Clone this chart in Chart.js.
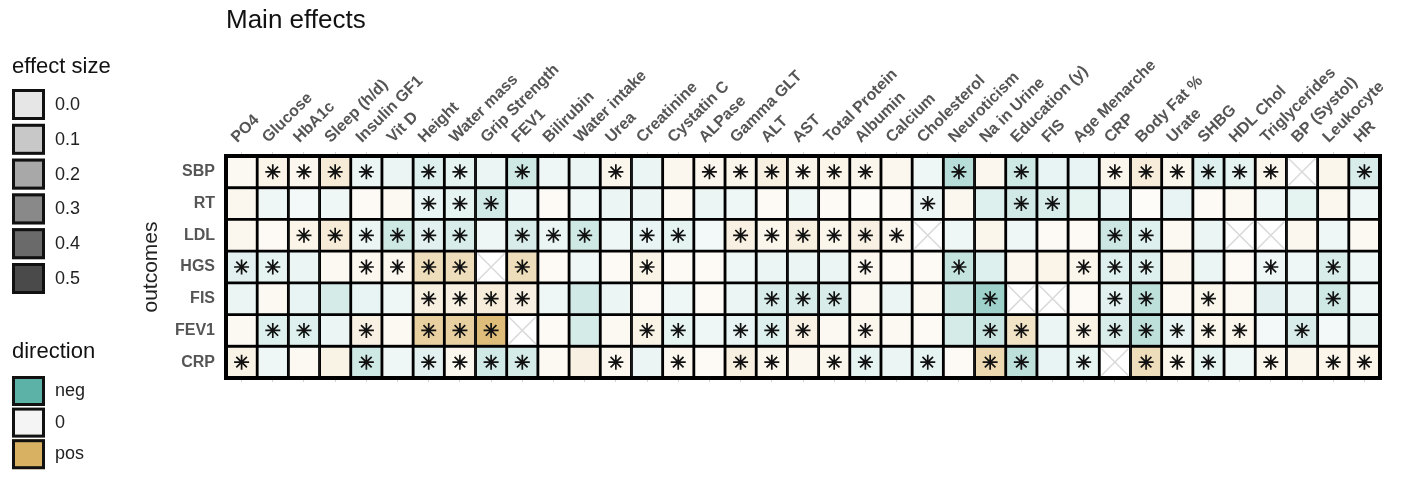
<!DOCTYPE html>
<html>
<head>
<meta charset="utf-8">
<title>Main effects</title>
<script src="https://cdn.jsdelivr.net/npm/chart.js@4/dist/chart.umd.min.js"></script>
<style>
  html, body { margin: 0; padding: 0; background: #fff; }
  #wrap { width: 1408px; height: 478px; }
</style>
</head>
<body>
<div id="wrap"><canvas id="heat"></canvas></div>
<script>
'use strict';

const exposures = ['PO4', 'Glucose', 'HbA1c', 'Sleep (h/d)', 'Insulin GF1', 'Vit D', 'Height', 'Water mass',
  'Grip Strength', 'FEV1', 'Bilirubin', 'Water intake', 'Urea', 'Creatinine', 'Cystatin C', 'ALPase',
  'Gamma GLT', 'ALT', 'AST', 'Total Protein', 'Albumin', 'Calcium', 'Cholesterol', 'Neuroticism',
  'Na in Urine', 'Education (y)', 'FIS', 'Age Menarche', 'CRP', 'Body Fat %', 'Urate', 'SHBG',
  'HDL Chol', 'Triglycerides', 'BP (Systol)', 'Leukocyte', 'HR'];
const outcomes = ['SBP', 'RT', 'LDL', 'HGS', 'FIS', 'FEV1', 'CRP'];

// signed effect size per exposure (+ pos, - neg), null = not estimated
const effSBP  = [0.04, 0.07, 0.05, 0.13, -0.06, -0.06, -0.10, -0.08, -0.06, -0.15, -0.05, -0.06, 0.06, -0.06, 0.05, 0.05, 0.06, 0.10, 0.06, 0.07, 0.06, 0.05, -0.05, -0.22, 0.05, -0.15, -0.07, -0.07, 0.06, 0.12, 0.06, -0.10, -0.08, 0.06, null, 0.06, -0.12];
const effRT   = [0.05, -0.05, -0.04, -0.05, 0.03, 0.04, -0.07, -0.08, -0.14, -0.05, 0.03, -0.05, -0.06, -0.06, 0.04, -0.06, -0.05, 0.03, -0.05, 0.03, 0.02, 0.03, -0.06, 0.05, -0.10, -0.14, -0.12, -0.08, -0.07, 0.02, -0.07, 0.03, 0.04, -0.05, -0.08, 0.05, -0.05];
const effLDL  = [0.05, 0.03, 0.07, 0.13, -0.06, -0.15, -0.09, -0.12, -0.05, -0.12, -0.06, -0.15, -0.05, -0.07, -0.08, -0.04, 0.09, 0.06, 0.10, 0.06, 0.09, 0.05, null, -0.05, 0.06, -0.05, 0.03, 0.03, -0.16, -0.10, 0.04, -0.06, null, null, 0.05, -0.05, 0.04];
const effHGS  = [-0.09, -0.08, -0.06, 0.04, 0.05, 0.05, 0.22, 0.22, null, 0.22, 0.03, -0.05, 0.03, 0.08, 0.03, 0.03, -0.05, -0.06, -0.06, -0.06, 0.05, 0.03, 0.03, -0.18, -0.10, 0.05, 0.07, 0.06, -0.10, -0.10, 0.05, -0.06, 0.03, -0.05, -0.05, -0.12, -0.05];
const effFIS  = [-0.06, 0.04, -0.07, -0.13, -0.07, -0.05, 0.10, 0.09, 0.12, 0.09, -0.05, -0.14, -0.06, 0.03, -0.05, 0.03, -0.06, -0.12, -0.12, -0.12, 0.04, -0.06, 0.04, -0.17, -0.30, null, null, 0.03, -0.09, -0.20, 0.04, 0.06, 0.04, -0.09, -0.06, -0.15, -0.05];
const effFEV1 = [0.04, -0.10, -0.10, -0.06, 0.09, 0.04, 0.30, 0.30, 0.42, null, 0.03, -0.13, 0.04, 0.08, -0.08, -0.05, -0.07, -0.10, 0.09, 0.04, 0.06, 0.04, 0.03, -0.13, -0.17, 0.18, -0.06, 0.08, -0.12, -0.20, -0.07, 0.06, 0.06, -0.04, -0.12, -0.04, -0.06];
const effCRP  = [0.08, -0.05, 0.04, 0.08, -0.15, -0.05, -0.09, 0.05, -0.14, -0.13, 0.04, 0.09, 0.05, -0.06, 0.05, 0.03, 0.10, 0.06, 0.05, 0.06, -0.08, -0.06, -0.08, 0.03, 0.25, -0.20, -0.07, -0.08, null, 0.22, 0.06, -0.08, -0.05, 0.06, 0.06, 0.07, 0.07];

// 1 = significant (asterisk)
const sigSBP  = [0,1,1,1,1,0,1,1,0,1, 0,0,1,0,0,1,1,1,1,1, 1,0,0,1,0,1,0,0,1,1, 1,1,1,1,0,0,1];
const sigRT   = [0,0,0,0,0,0,1,1,1,0, 0,0,0,0,0,0,0,0,0,0, 0,0,1,0,0,1,1,0,0,0, 0,0,0,0,0,0,0];
const sigLDL  = [0,0,1,1,1,1,1,1,0,1, 1,1,0,1,1,0,1,1,1,1, 1,1,0,0,0,0,0,0,1,1, 0,0,0,0,0,0,0];
const sigHGS  = [1,1,0,0,1,1,1,1,0,1, 0,0,0,1,0,0,0,0,0,0, 1,0,0,1,0,0,0,1,1,1, 0,0,0,1,0,1,0];
const sigFIS  = [0,0,0,0,0,0,1,1,1,1, 0,0,0,0,0,0,0,1,1,1, 0,0,0,0,1,0,0,0,1,1, 0,1,0,0,0,1,0];
const sigFEV1 = [0,1,1,0,1,0,1,1,1,0, 0,0,0,1,1,0,1,1,1,0, 1,0,0,0,1,1,0,1,1,1, 1,1,1,0,1,0,0];
const sigCRP  = [1,0,0,0,1,0,1,1,1,1, 0,0,1,0,1,0,1,1,0,1, 1,0,1,0,1,1,0,1,0,1, 1,1,0,1,0,1,1];

const sizeTicks = [0.0, 0.1, 0.2, 0.3, 0.4, 0.5];
const sizeGreys = ['#e6e6e6', '#c8c8c8', '#a8a8a8', '#898989', '#6a6a6a', '#4a4a4a'];
const directions = ['neg', '0', 'pos'];
const directionColors = ['#5cb2a6', '#f4f4f4', '#d8b162'];

const effects = [effSBP, effRT, effLDL, effHGS, effFIS, effFEV1, effCRP];
const signif = [sigSBP, sigRT, sigLDL, sigHGS, sigFIS, sigFEV1, sigCRP];

const NEG = [92, 178, 166];
const POS = [216, 177, 98];

function cellColor(v) {
  if (v === null) return '#ffffff';
  const base = v < 0 ? NEG : POS;
  const t = Math.min(1, Math.abs(v) * 2);
  const c = base.map(ch => Math.round(255 + (ch - 255) * t));
  return 'rgb(' + c.join(',') + ')';
}

const FONT = '"Liberation Sans", Arial, sans-serif';
Chart.defaults.font.family = FONT;
Chart.defaults.color = '#222';

// one floating bar per cell, one dataset per outcome row
const cellSets = outcomes.map((name, r) => ({
  type: 'bar',
  label: name,
  data: exposures.map(() => [r, r + 1]),
  backgroundColor: effects[r].map(cellColor),
  borderColor: '#000',
  borderWidth: 1.75,
  borderSkipped: false,
  barPercentage: 1,
  categoryPercentage: 1,
  grouped: false,
  order: 2
}));

const starPoints = [];
const missingPoints = [];
effects.forEach((row, r) => row.forEach((v, c) => {
  if (v === null) missingPoints.push({ x: exposures[c], y: r + 0.5 });
  else if (signif[r][c]) starPoints.push({ x: exposures[c], y: r + 0.5 });
}));

// title, grid frame and the two keys on the left
const sideLegend = {
  id: 'sideLegend',
  afterDraw(chart) {
    const ctx = chart.ctx;
    const area = chart.chartArea;
    ctx.save();
    ctx.textBaseline = 'middle';
    ctx.textAlign = 'left';

    ctx.fillStyle = '#111';
    ctx.font = '26px ' + FONT;
    ctx.fillText('Main effects', area.left, 21);

    ctx.strokeStyle = '#000';
    ctx.lineWidth = 4;
    ctx.strokeRect(area.left, area.top, area.right - area.left, area.bottom - area.top);

    ctx.fillStyle = '#111';
    ctx.font = '22px ' + FONT;
    ctx.fillText('effect size', 12, 67);
    ctx.font = '18px ' + FONT;
    sizeTicks.forEach((s, i) => {
      const y = 89 + i * 34.8;
      ctx.fillStyle = sizeGreys[i];
      ctx.fillRect(12, y, 33, 31);
      ctx.lineWidth = 3;
      ctx.strokeStyle = '#111';
      ctx.strokeRect(13.5, y + 1.5, 30, 28);
      ctx.fillStyle = '#222';
      ctx.fillText(s.toFixed(1), 55, y + 16);
    });

    ctx.fillStyle = '#111';
    ctx.font = '22px ' + FONT;
    ctx.fillText('direction', 12, 352);
    ctx.font = '18px ' + FONT;
    directions.forEach((d, i) => {
      const y = 376 + i * 31.6;
      ctx.fillStyle = directionColors[i];
      ctx.fillRect(12, y, 33, 30);
      ctx.lineWidth = 3;
      ctx.strokeStyle = '#111';
      ctx.strokeRect(13.5, y + 1.5, 30, 27);
      ctx.fillStyle = '#222';
      ctx.fillText(d, 55, y + 15);
    });
    ctx.restore();
  }
};

new Chart(document.getElementById('heat'), {
  type: 'bar',
  data: {
    labels: exposures,
    datasets: [
      {
        type: 'scatter',
        label: 'significant',
        data: starPoints,
        pointStyle: 'star',
        pointRadius: 7.5,
        borderColor: '#111',
        backgroundColor: 'rgba(0,0,0,0)',
        borderWidth: 1.7,
        order: 0
      },
      {
        type: 'scatter',
        label: 'missing',
        data: missingPoints,
        pointStyle: 'crossRot',
        pointRadius: 19,
        borderColor: '#dadada',
        backgroundColor: 'rgba(0,0,0,0)',
        borderWidth: 1.5,
        order: 1
      },
      ...cellSets
    ]
  },
  options: {
    responsive: true,
    maintainAspectRatio: false,
    animation: false,
    events: [],
    layout: { padding: { left: 130, top: 0, right: 28, bottom: 96 } },
    plugins: {
      legend: { display: false },
      tooltip: { enabled: false },
      title: { display: false }
    },
    scales: {
      x: {
        type: 'category',
        position: 'top',
        offset: true,
        afterFit: s => { s.height = 156; },
        grid: { offset: false, drawOnChartArea: false, tickLength: 4, color: '#d4d4d4' },
        border: { display: false },
        ticks: {
          autoSkip: false,
          minRotation: 45,
          maxRotation: 45,
          padding: 5,
          labelOffset: 6,
          color: '#555',
          font: { size: 16, weight: 'bold' }
        }
      },
      x2: {
        type: 'category',
        position: 'bottom',
        labels: exposures,
        offset: true,
        grid: { offset: false, drawOnChartArea: false, tickLength: 4, color: '#d4d4d4' },
        border: { display: false },
        ticks: { display: false }
      },
      y: {
        type: 'linear',
        min: 0,
        max: outcomes.length,
        reverse: true,
        afterFit: s => { s.width = 96; },
        afterBuildTicks: s => { s.ticks = outcomes.map((_, i) => ({ value: i + 0.5 })); },
        grid: { display: false, drawTicks: false },
        border: { display: false },
        ticks: {
          padding: 11,
          color: '#555',
          font: { size: 16, weight: 'bold' },
          callback: v => outcomes[Math.floor(v)]
        },
        title: {
          display: true,
          text: 'outcomes',
          color: '#222',
          font: { size: 21 },
          padding: { top: 9, bottom: 0 }
        }
      }
    }
  },
  plugins: [sideLegend]
});
</script>
</body>
</html>
